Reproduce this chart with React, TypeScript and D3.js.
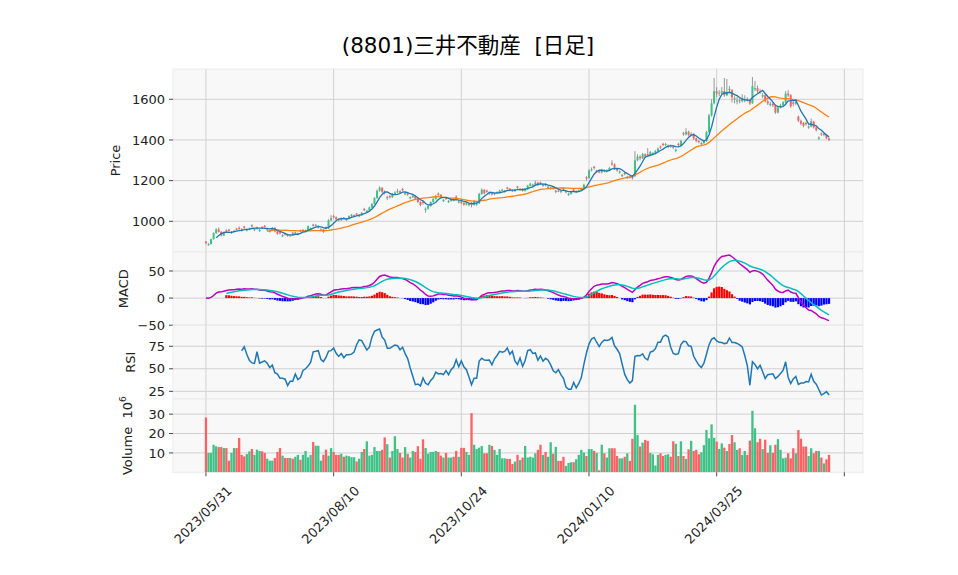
import React from "react";
import * as d3 from "d3";

const title = "(8801)三井不動産  [日足]";
const xTickIndex = [0, 50, 100, 150, 200, 250];
const xTickLabels = ["2023/05/31", "2023/08/10", "2023/10/24", "2024/01/10", "2024/03/25", ""];
const priceTicks = [1000, 1200, 1400, 1600];
const macdTicks = [-50, 0, 50];
const rsiTicks = [25, 50, 75];
const volumeTicks = [10, 20, 30];

const opens = [
  900, 882, 888, 912, 942, 960, 948, 930, 956, 959,
  942, 948, 964, 968, 962, 974, 954, 960, 981, 956,
  962, 952, 972, 978, 956, 949, 955, 968, 950, 946,
  926, 941, 935, 928, 944, 938, 934, 956, 950, 949,
  955, 959, 984, 978, 969, 954, 960, 971, 965, 1005,
  1026, 1020, 1010, 1005, 1018, 1006, 1012, 1025, 1024, 1038,
  1024, 1030, 1061, 1046, 1052, 1068, 1085, 1115, 1150, 1165,
  1146, 1114, 1124, 1118, 1135, 1142, 1148, 1158, 1132, 1138,
  1112, 1118, 1125, 1112, 1095, 1096, 1056, 1062, 1075, 1095,
  1110, 1136, 1130, 1099, 1116, 1094, 1100, 1108, 1121, 1092,
  1098, 1090, 1082, 1079, 1092, 1080, 1082, 1088, 1135, 1155,
  1151, 1134, 1140, 1132, 1138, 1142, 1150, 1144, 1166, 1160,
  1152, 1148, 1171, 1154, 1160, 1150, 1158, 1175, 1174, 1180,
  1190, 1191, 1174, 1180, 1164, 1159, 1165, 1144, 1150, 1148,
  1161, 1142, 1129, 1135, 1156, 1142, 1148, 1152, 1160, 1216,
  1212, 1250, 1268, 1242, 1248, 1240, 1252, 1245, 1250, 1286,
  1280, 1258, 1239, 1222, 1238, 1212, 1218, 1220, 1222, 1300,
  1318, 1310, 1330, 1331, 1325, 1329, 1335, 1345, 1368, 1381,
  1375, 1366, 1372, 1368, 1346, 1381, 1375, 1434, 1428, 1440,
  1425, 1430, 1408, 1395, 1379, 1385, 1395, 1440, 1520, 1580,
  1640, 1628, 1632, 1640, 1620, 1651, 1645, 1599, 1589, 1595,
  1590, 1592, 1598, 1595, 1580, 1649, 1655, 1640, 1614, 1620,
  1590, 1572, 1578, 1570, 1535, 1560, 1570, 1585, 1628, 1620,
  1585, 1578, 1515, 1494, 1484, 1484, 1460, 1466, 1490, 1462,
  1406, 1432, 1424, 1426, 1408,
];

const highs = [
  903, 893, 915, 946, 966, 970, 952, 948, 960, 963,
  952, 957, 968, 975, 966, 977, 964, 969, 985, 966,
  974, 962, 976, 982, 966, 958, 971, 970, 953, 949,
  936, 944, 938, 934, 947, 949, 944, 959, 962, 960,
  980, 970, 988, 987, 980, 966, 963, 975, 1010, 1030,
  1032, 1024, 1014, 1019, 1021, 1016, 1029, 1036, 1034, 1041,
  1034, 1046, 1066, 1057, 1072, 1090, 1119, 1156, 1172, 1168,
  1152, 1126, 1130, 1140, 1148, 1160, 1152, 1164, 1144, 1142,
  1122, 1130, 1128, 1115, 1098, 1100, 1068, 1079, 1098, 1114,
  1130, 1142, 1134, 1110, 1120, 1105, 1112, 1112, 1128, 1102,
  1102, 1094, 1096, 1090, 1096, 1104, 1094, 1140, 1162, 1158,
  1156, 1146, 1144, 1142, 1147, 1155, 1160, 1154, 1170, 1164,
  1156, 1159, 1175, 1164, 1163, 1163, 1180, 1190, 1185, 1200,
  1194, 1195, 1185, 1186, 1175, 1170, 1170, 1155, 1155, 1152,
  1165, 1152, 1140, 1150, 1160, 1153, 1157, 1165, 1185, 1222,
  1256, 1265, 1272, 1253, 1252, 1258, 1256, 1256, 1268, 1300,
  1284, 1262, 1250, 1234, 1242, 1224, 1224, 1226, 1345, 1330,
  1325, 1336, 1334, 1360, 1346, 1340, 1350, 1363, 1372, 1386,
  1386, 1378, 1378, 1374, 1358, 1386, 1400, 1440, 1458, 1446,
  1438, 1434, 1412, 1400, 1392, 1400, 1445, 1528, 1600, 1705,
  1660, 1645, 1660, 1705, 1700, 1665, 1650, 1615, 1612, 1605,
  1625, 1620, 1610, 1602, 1710, 1690, 1668, 1650, 1630, 1625,
  1598, 1588, 1585, 1574, 1565, 1578, 1592, 1640, 1645, 1625,
  1592, 1600, 1520, 1500, 1488, 1490, 1472, 1505, 1494, 1466,
  1418, 1436, 1436, 1430, 1412,
];

const lows = [
  887, 880, 886, 910, 938, 945, 926, 927, 946, 950,
  938, 944, 955, 958, 950, 963, 950, 956, 970, 952,
  959, 948, 962, 968, 952, 945, 952, 946, 934, 935,
  922, 930, 924, 925, 934, 935, 931, 946, 947, 946,
  952, 955, 974, 974, 965, 950, 943, 960, 962, 1000,
  1014, 1005, 1000, 1002, 1009, 1002, 1009, 1021, 1020, 1028,
  1020, 1027, 1050, 1042, 1048, 1064, 1082, 1110, 1145, 1138,
  1132, 1105, 1112, 1115, 1130, 1138, 1135, 1148, 1128, 1125,
  1108, 1114, 1108, 1090, 1074, 1082, 1042, 1058, 1072, 1092,
  1106, 1125, 1113, 1095, 1105, 1090, 1096, 1098, 1110, 1088,
  1084, 1076, 1078, 1074, 1068, 1076, 1076, 1085, 1130, 1132,
  1140, 1130, 1126, 1128, 1134, 1138, 1146, 1140, 1156, 1148,
  1144, 1145, 1160, 1150, 1146, 1146, 1155, 1171, 1170, 1176,
  1173, 1180, 1170, 1172, 1160, 1155, 1155, 1138, 1143, 1138,
  1150, 1138, 1125, 1131, 1145, 1138, 1144, 1148, 1157, 1200,
  1210, 1245, 1255, 1238, 1236, 1236, 1240, 1240, 1246, 1274,
  1252, 1244, 1234, 1218, 1226, 1208, 1210, 1205, 1218, 1295,
  1300, 1306, 1312, 1318, 1320, 1324, 1330, 1340, 1356, 1370,
  1370, 1360, 1362, 1356, 1340, 1368, 1370, 1420, 1422, 1418,
  1418, 1400, 1388, 1383, 1375, 1380, 1390, 1436, 1515, 1575,
  1610, 1615, 1625, 1612, 1615, 1630, 1585, 1580, 1575, 1580,
  1585, 1585, 1588, 1572, 1578, 1640, 1630, 1625, 1605, 1585,
  1572, 1565, 1562, 1528, 1530, 1555, 1565, 1580, 1612, 1558,
  1565, 1572, 1488, 1472, 1462, 1470, 1455, 1462, 1456, 1442,
  1400, 1420, 1418, 1404, 1394,
];

const closes = [
  893, 888, 912, 942, 960, 948, 930, 945, 950, 953,
  948, 952, 958, 962, 955, 968, 960, 965, 975, 962,
  970, 958, 966, 972, 962, 955, 968, 950, 938, 940,
  932, 935, 928, 930, 938, 945, 940, 950, 958, 955,
  975, 965, 978, 982, 975, 960, 948, 965, 1005, 1015,
  1020, 1010, 1005, 1015, 1014, 1012, 1025, 1032, 1030, 1033,
  1030, 1042, 1055, 1052, 1068, 1085, 1115, 1150, 1165, 1145,
  1140, 1120, 1118, 1135, 1142, 1148, 1140, 1152, 1138, 1130,
  1118, 1125, 1112, 1095, 1080, 1090, 1062, 1075, 1095, 1110,
  1125, 1130, 1118, 1105, 1110, 1100, 1108, 1102, 1115, 1098,
  1090, 1082, 1092, 1085, 1080, 1100, 1088, 1135, 1155, 1138,
  1145, 1140, 1132, 1138, 1142, 1150, 1155, 1150, 1160, 1152,
  1148, 1155, 1165, 1160, 1150, 1158, 1175, 1185, 1180, 1190,
  1178, 1185, 1180, 1178, 1170, 1165, 1160, 1150, 1148, 1145,
  1155, 1148, 1135, 1145, 1150, 1148, 1152, 1160, 1180, 1210,
  1250, 1255, 1262, 1248, 1240, 1252, 1245, 1250, 1262, 1280,
  1258, 1250, 1245, 1228, 1232, 1218, 1215, 1212, 1300, 1318,
  1310, 1330, 1318, 1325, 1340, 1335, 1345, 1358, 1362, 1375,
  1380, 1372, 1368, 1362, 1352, 1375, 1395, 1428, 1440, 1425,
  1430, 1408, 1395, 1390, 1385, 1395, 1440, 1520, 1580, 1640,
  1628, 1632, 1640, 1620, 1635, 1645, 1610, 1605, 1595, 1590,
  1605, 1598, 1595, 1580, 1665, 1655, 1640, 1638, 1620, 1590,
  1580, 1578, 1570, 1535, 1560, 1570, 1585, 1628, 1620, 1565,
  1578, 1590, 1495, 1480, 1470, 1478, 1466, 1492, 1462, 1448,
  1412, 1426, 1430, 1408, 1400,
];

// volume in units of 10^6 shares
const volumes = [
  28.3, 10, 10, 14.2, 13.4, 13, 13, 12.5, 12.5, 6,
  10, 12.5, 12.5, 17.7, 9, 8.2, 9.4, 10.8, 12, 9,
  11.7, 11, 10.8, 10, 7, 6, 6, 7.4, 10.5, 12.5,
  8.6, 7.4, 7.4, 7.4, 7, 8, 9, 6.5, 9, 11,
  7.7, 9, 15.6, 13.7, 13.7, 6, 9, 11.7, 8.6, 12.5,
  10.5, 9, 9, 9.6, 8, 8.6, 8.3, 7.8, 7.8, 5.6,
  7, 10.5, 12, 16, 8.6, 9, 13, 11, 11, 11.6,
  18, 14.5, 7.6, 11, 18.6, 12, 10, 7.6, 13, 9.5,
  7.6, 11, 10.5, 13.5, 7, 17, 12.5, 9.6, 10.5, 10.5,
  11, 10.5, 8.6, 7.6, 10, 7.6, 7.6, 8, 11, 8,
  12.6, 12.6, 10.5, 9, 30.5, 14.2, 12, 12.7, 13.6, 9.8,
  9.8, 14.2, 13.6, 11.5, 9, 12, 7.2, 7.2, 6.9, 6.9,
  4.3, 5.5, 9, 6.3, 7.6, 13.6, 7.6, 8, 7.6, 9.8,
  11.6, 14.2, 9, 10.5, 8, 15.5, 9.6, 13.1, 5.9, 5.9,
  8, 3.3, 4.8, 5.2, 5.2, 6.7, 9, 11.6, 10.2, 8.4,
  12, 12, 11, 10, 1, 14.2, 9.8, 7.6, 12.4, 12.4,
  12.4, 8.4, 7.2, 7.2, 8, 9.8, 5.9, 17.3, 34.8, 19.3,
  13.3, 15.3, 16.7, 16.2, 10, 9.3, 3.5, 9, 9.8, 8.4,
  9, 9.3, 8, 16, 14.7, 8.4, 16, 8.4, 6.9, 11.8,
  16.2, 11, 11.6, 9.3, 10.3, 14, 21.8, 17.5, 24.7, 17.8,
  15.8, 12, 14.9, 12.7, 11, 14.6, 19.2, 15.5, 11.5, 12.4,
  9, 11, 9, 16.3, 31.7, 22.7, 15.5, 17.3, 12, 16.8,
  10, 13.9, 10, 14.2, 17.1, 11.6, 7.2, 7.6, 9.8, 7.2,
  12.4, 9.8, 21.8, 17.3, 13.3, 13.3, 8.4, 12.4, 9.8, 11,
  11, 7.6, 4.6, 6.7, 9,
];

const FONT = "'DejaVu Sans', 'Noto Sans CJK JP', sans-serif";
const UP = "#3ec286";
const DOWN = "#fc6264";
const GRID = "#d0d0d0";
const FACE = "#f8f8f8";

function sma(values: number[], n: number): (number | null)[] {
  return values.map((_, i) => (i < n - 1 ? null : (d3.mean(values.slice(i - n + 1, i + 1)) as number)));
}
function ema(values: number[], n: number): number[] {
  const k = 2 / (n + 1);
  const out: number[] = [];
  values.forEach((v, i) => {
    out.push(i === 0 ? v : k * v + (1 - k) * out[i - 1]);
  });
  return out;
}
function rsiCalc(values: number[], n: number): (number | null)[] {
  return values.map((_, i) => {
    if (i < n) return null;
    let g = 0;
    let l = 0;
    for (let j = i - n + 1; j <= i; j++) {
      const d = values[j] - values[j - 1];
      if (d > 0) g += d;
      else l -= d;
    }
    return g + l === 0 ? 50 : (100 * g) / (g + l);
  });
}

export default function App() {
  const W = 958;
  const H = 575;
  const left = 173;
  const right = 863;
  const P = { top: 69, bottom: 252 };
  const M = { top: 252, bottom: 325.5 };
  const Rr = { top: 325.5, bottom: 399 };
  const V = { top: 399, bottom: 472.3 };

  const n = closes.length;
  const idx = d3.range(n);
  const x = d3.scaleLinear().domain([-12.9, 257.3]).range([left, right]);
  const yP = d3.scaleLinear().domain([849, 1749]).range([P.bottom, P.top]);
  const yM = d3.scaleLinear().domain([-50.5, 85]).range([M.bottom, M.top]);
  const yR = d3.scaleLinear().domain([16.5, 98]).range([Rr.bottom, Rr.top]);
  const yV = d3.scaleLinear().domain([0, 37.8]).range([V.bottom, V.top]);

  const ma5 = sma(closes, 5);
  const ma25 = sma(closes, 25);
  const e12 = ema(closes, 12);
  const e26 = ema(closes, 26);
  const macd = closes.map((_, i) => e12[i] - e26[i]);
  const signal = ema(macd, 9);
  const rsi = rsiCalc(closes, 14);

  const mkLine = (arr: (number | null)[], y: d3.ScaleLinear<number, number>, start = 0) =>
    d3
      .line<number>()
      .defined((i) => i >= start && arr[i] != null)
      .x((i) => x(i))
      .y((i) => y(arr[i] as number))(idx) || "";

  const panels = [
    { r: P, ticks: priceTicks, y: yP },
    { r: M, ticks: macdTicks, y: yM },
    { r: Rr, ticks: rsiTicks, y: yR },
    { r: V, ticks: volumeTicks, y: yV },
  ];

  const fmt = (v: number) => (v < 0 ? "\u2212" + Math.abs(v) : String(v));

  return (
    <div style={{ position: "absolute", left: 0, top: 0 }}>
      <svg width={W} height={H} style={{ display: "block", background: "#fff" }} fontFamily={FONT}>
        <defs>
          {panels.map((p, k) => (
            <clipPath id={`clip${k}`} key={k}>
              <rect x={left} y={p.r.top} width={right - left} height={p.r.bottom - p.r.top} />
            </clipPath>
          ))}
        </defs>
        <text x={468} y={53} textAnchor="middle" fontSize={21.5} fill="#000" style={{ whiteSpace: "pre" }}>
          {title}
        </text>

        {panels.map((p, k) => (
          <g key={`panel${k}`}>
            <rect x={left} y={p.r.top} width={right - left} height={p.r.bottom - p.r.top} fill={FACE} stroke="#ebebeb" strokeWidth={1} />
            {xTickIndex.map((t) => (
              <line key={`vg${t}`} x1={x(t)} x2={x(t)} y1={p.r.top} y2={p.r.bottom} stroke={GRID} strokeWidth={1} />
            ))}
            {p.ticks.map((t) => (
              <g key={`hg${t}`}>
                <line x1={left} x2={right} y1={p.y(t)} y2={p.y(t)} stroke={GRID} strokeWidth={1} />
                <line x1={left - 4} x2={left} y1={p.y(t)} y2={p.y(t)} stroke="#333" strokeWidth={0.9} />
                <text x={left - 8} y={p.y(t)} dy="0.36em" textAnchor="end" fontSize={13} fill="#222">
                  {fmt(t)}
                </text>
              </g>
            ))}
          </g>
        ))}

        {/* Price panel */}
        <g clipPath="url(#clip0)">
          {idx.map((i) => {
            const up = closes[i] >= opens[i];
            const top = yP(Math.max(opens[i], closes[i]));
            const bot = yP(Math.min(opens[i], closes[i]));
            return (
              <g key={`c${i}`}>
                <line x1={x(i)} x2={x(i)} y1={yP(highs[i])} y2={yP(lows[i])} stroke="#8c8c8c" strokeWidth={0.9} />
                <rect x={x(i) - 1} y={top} width={2} height={Math.max(0.8, bot - top)} fill={up ? UP : DOWN} />
              </g>
            );
          })}
          <path d={mkLine(ma25, yP)} fill="none" stroke="#ff7f0e" strokeWidth={1.3} />
          <path d={mkLine(ma5, yP)} fill="none" stroke="#1f77b4" strokeWidth={1.3} />
        </g>

        {/* MACD panel */}
        <g clipPath="url(#clip1)">
          {idx
            .filter((i) => i >= 8)
            .map((i) => {
              const h = macd[i] - signal[i];
              const y0 = yM(0);
              const y1 = yM(h);
              return (
                <rect
                  key={`h${i}`}
                  x={x(i) - 1.1}
                  y={Math.min(y0, y1)}
                  width={2.2}
                  height={Math.abs(y1 - y0)}
                  fill={h >= 0 ? "#ff0000" : "#0000ff"}
                />
              );
            })}
          <path d={mkLine(macd, yM)} fill="none" stroke="#bf00bf" strokeWidth={1.5} />
          <path d={mkLine(signal, yM, 8)} fill="none" stroke="#00bfbf" strokeWidth={1.5} />
        </g>

        {/* RSI panel */}
        <g clipPath="url(#clip2)">
          <path d={mkLine(rsi, yR)} fill="none" stroke="#1f77b4" strokeWidth={1.5} />
        </g>

        {/* Volume panel */}
        <g clipPath="url(#clip3)">
          {idx.map((i) => {
            const up = closes[i] >= opens[i];
            return (
              <rect
                key={`v${i}`}
                x={x(i) - 1.15}
                y={yV(volumes[i])}
                width={2.3}
                height={yV(0) - yV(volumes[i])}
                fill={up ? UP : DOWN}
              />
            );
          })}
        </g>

        {/* x ticks */}
        {xTickIndex.map((t, k) => (
          <g key={`xt${t}`}>
            <line x1={x(t)} x2={x(t)} y1={V.bottom} y2={V.bottom + 4} stroke="#333" strokeWidth={0.9} />
            {xTickLabels[k] && (
              <text
                transform={`translate(${x(t) - 3},515) rotate(-45)`}
                textAnchor="middle"
                dominantBaseline="central"
                fontSize={13}
                fill="#222"
              >
                {xTickLabels[k]}
              </text>
            )}
          </g>
        ))}

        {/* y labels */}
        <text transform={`translate(120,${(P.top + P.bottom) / 2}) rotate(-90)`} textAnchor="middle" fontSize={13} fill="#222">
          Price
        </text>
        <text transform={`translate(128,${(M.top + M.bottom) / 2}) rotate(-90)`} textAnchor="middle" fontSize={13} fill="#222">
          MACD
        </text>
        <text transform={`translate(135,${(Rr.top + Rr.bottom) / 2}) rotate(-90)`} textAnchor="middle" fontSize={13} fill="#222">
          RSI
        </text>
        <text
          transform={`translate(132,${(V.top + V.bottom) / 2}) rotate(-90)`}
          textAnchor="middle"
          fontSize={13}
          fill="#222"
          style={{ whiteSpace: "pre" }}
        >
          {"Volume  10"}
          <tspan dy={-6} fontSize={9}>
            6
          </tspan>
        </text>
      </svg>
    </div>
  );
}
